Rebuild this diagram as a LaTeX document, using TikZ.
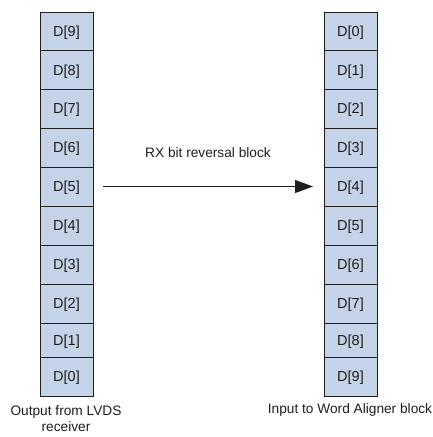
\documentclass[tikz,border=0pt]{standalone}
\usepackage{fontspec}
\setmainfont{Liberation Sans}
\usetikzlibrary{arrows.meta}
\definecolor{cellfill}{RGB}{197,211,232}
\definecolor{ink}{RGB}{30,30,30}
\newcommand{\cellfont}{\fontsize{14.5}{17}\selectfont}
\newcommand{\lblfont}{\fontsize{13.7}{16}\selectfont}
\begin{document}
\begin{tikzpicture}[x=1pt,y=-1pt,
 cell/.style={draw=ink, fill=cellfill, line width=1pt, minimum width=53pt, inner sep=0pt, outer sep=0pt, anchor=north west, text=ink, font=\cellfont, text height=10.6pt, text depth=0pt},
 lbl/.style={font=\lblfont, text=ink, align=center},
 conn/.style={draw=ink, line width=1pt, -{Triangle[length=18pt,width=13pt]}}]
\useasboundingbox (0,0) rectangle (433,437);
\foreach \i/\t/\h in {9/12/38.5, 8/50.5/38.5, 7/89/39, 6/128/39, 5/167/39, 4/206/39, 3/245/39, 2/284/39, 1/323/34, 0/357/39} {
  \node[cell, minimum height=\h pt] (L\i) at (40,\t) {D[\i]};
}
\foreach \i/\t/\h in {0/12/38.5, 1/50.5/38.5, 2/89/39, 3/128/39, 4/167/39, 5/206/39, 6/245/39, 7/284/39, 8/323/34, 9/357/39} {
  \node[cell, minimum height=\h pt] (R\i) at (324,\t) {D[\i]};
}
\draw[conn] ([xshift=10pt]L5.east) -- ([xshift=-11pt]R4.west);
\node[lbl] (title) at (208,153) {RX bit reversal block};
\node[lbl] (outL) at (66,419) {Output from LVDS\\receiver};
\node[lbl] (inR) at (350,410) {Input to Word Aligner block};
\end{tikzpicture}
\end{document}
